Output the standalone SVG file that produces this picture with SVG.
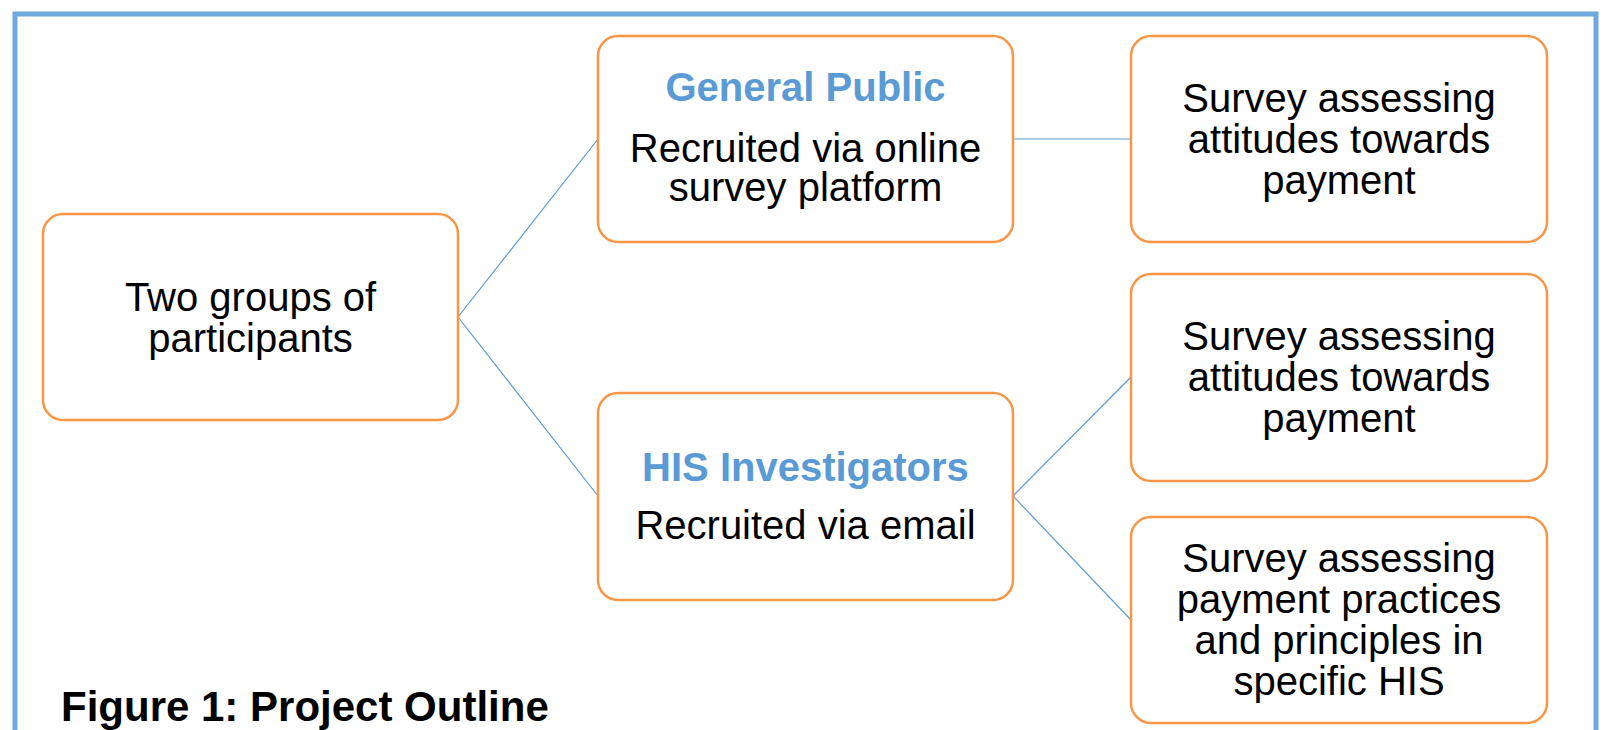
<svg xmlns="http://www.w3.org/2000/svg" width="1604" height="730" viewBox="0 0 1604 730">
  <style>
    .box { fill: #ffffff; stroke: #F79646; stroke-width: 2.5; }
    .link { stroke: #5B9BD5; stroke-width: 1.2; fill: none; }
    .t { font-family: "Liberation Sans", Arial, sans-serif; font-size: 40px; fill: #000000; text-anchor: middle; }
    .h { font-family: "Liberation Sans", Arial, sans-serif; font-size: 40px; font-weight: bold; fill: #5B9BD5; text-anchor: middle; }
    .cap { font-family: "Liberation Sans", Arial, sans-serif; font-size: 42px; font-weight: bold; fill: #000000; }
  </style>
  <rect width="1604" height="730" fill="#ffffff"/>
  <!-- outer frame, open past the bottom edge -->
  <rect x="15" y="14" width="1581" height="760" fill="none" stroke="#6FA8DC" stroke-width="5"/>

  <g id="connectors">
    <line class="link" x1="458" y1="317" x2="598" y2="139"/>
    <line class="link" x1="458" y1="317" x2="598" y2="496"/>
    <line class="link" x1="1013" y1="139" x2="1131" y2="139"/>
    <line class="link" x1="1013" y1="496" x2="1131" y2="377"/>
    <line class="link" x1="1013" y1="496" x2="1131" y2="620"/>
  </g>

  <g id="participants">
    <rect class="box" x="43" y="214" width="415" height="206" rx="20"/>
    <text class="t" x="250.5" y="311">Two groups of</text>
    <text class="t" x="250.5" y="352">participants</text>
  </g>

  <g id="general-public">
    <rect class="box" x="598" y="36" width="415" height="206" rx="20"/>
    <text class="h" x="805.5" y="101">General Public</text>
    <text class="t" x="805.5" y="162">Recruited via online</text>
    <text class="t" x="805.5" y="201">survey platform</text>
  </g>

  <g id="his-investigators">
    <rect class="box" x="598" y="393" width="415" height="207" rx="20"/>
    <text class="h" x="805.5" y="481">HIS Investigators</text>
    <text class="t" x="805.5" y="539">Recruited via email</text>
  </g>

  <g id="survey-public">
    <rect class="box" x="1131" y="36" width="416" height="206" rx="20"/>
    <text class="t" x="1339" y="112">Survey assessing</text>
    <text class="t" x="1339" y="153">attitudes towards</text>
    <text class="t" x="1339" y="194">payment</text>
  </g>

  <g id="survey-his-attitudes">
    <rect class="box" x="1131" y="274" width="416" height="207" rx="20"/>
    <text class="t" x="1339" y="350">Survey assessing</text>
    <text class="t" x="1339" y="391">attitudes towards</text>
    <text class="t" x="1339" y="432">payment</text>
  </g>

  <g id="survey-his-practices">
    <rect class="box" x="1131" y="517" width="416" height="206" rx="20"/>
    <text class="t" x="1339" y="572">Survey assessing</text>
    <text class="t" x="1339" y="613">payment practices</text>
    <text class="t" x="1339" y="654">and principles in</text>
    <text class="t" x="1339" y="695">specific HIS</text>
  </g>

  <text class="cap" x="61" y="721">Figure 1: Project Outline</text>
</svg>
